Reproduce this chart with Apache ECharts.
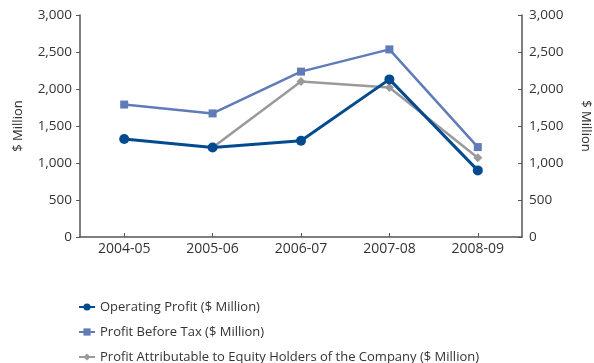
<!DOCTYPE html>
<html>
<head>
<meta charset="utf-8">
<script src="https://cdn.jsdelivr.net/npm/echarts@6/dist/echarts.min.js"></script>
<style>
  html, body { margin: 0; padding: 0; background: #ffffff; }
  #chart { width: 594px; height: 363px; }
</style>
</head>
<body>
<div id="chart"></div>
<script>
// Fiscal years on the category axis
const years = ['2004-05', '2005-06', '2006-07', '2007-08', '2008-09'];

// Profit figures, $ Million
const operatingProfit = [1325, 1210, 1300, 2130, 900];
const profitBeforeTax = [1790, 1670, 2235, 2535, 1215];
const profitAttributable = [null, 1210, 2100, 2020, 1070];

// Series names, in legend order
const seriesNames = [
  'Operating Profit ($ Million)',
  'Profit Before Tax ($ Million)',
  'Profit Attributable to Equity Holders of the Company ($ Million)'
];

// Shared value-axis scale
const axisMin = 0;
const axisMax = 3000;
const axisStep = 500;

const FONT = 'Open Sans';
const axisColor = '#555555';
const textColor = '#333333';

const chart = echarts.init(document.getElementById('chart'), null, { renderer: 'canvas' });

const valueAxisBase = {
  type: 'value',
  min: axisMin,
  max: axisMax,
  interval: axisStep,
  name: '$ Million',
  nameLocation: 'middle',
  nameTextStyle: { color: textColor, fontFamily: FONT, fontSize: 13 },
  axisLine: { show: true, lineStyle: { color: axisColor, width: 1.5 } },
  axisTick: { show: true, length: 4, lineStyle: { color: axisColor, width: 1 } },
  splitLine: { show: false },
  axisLabel: {
    color: textColor, fontFamily: FONT, fontSize: 13.5,
    formatter: v => v.toLocaleString('en-US')
  }
};

// One legend block per series, stacked vertically under the plot
const legendTops = [300, 325, 350];
const legends = seriesNames.map((name, i) => ({
  orient: 'vertical',
  left: 78,
  top: legendTops[i],
  padding: 0,
  itemWidth: 16,
  itemHeight: 9,
  itemGap: 0,
  textStyle: { color: textColor, fontFamily: FONT, fontSize: 13, lineHeight: 14 },
  data: [name]
}));

chart.setOption({
  animation: false,
  backgroundColor: '#ffffff',
  grid: {
    left: 80, right: 72, top: 15, bottom: 126,
    containLabel: false,
    outerBoundsMode: 'none'
  },
  xAxis: {
    type: 'category',
    data: years,
    boundaryGap: true,
    axisLine: { lineStyle: { color: axisColor, width: 1.5 } },
    axisTick: { show: true, alignWithLabel: true, inside: true, length: 4, lineStyle: { color: axisColor } },
    axisLabel: { color: textColor, fontFamily: FONT, fontSize: 14, margin: 5 }
  },
  yAxis: [
    Object.assign({}, valueAxisBase, {
      position: 'left',
      nameGap: 55,
      nameRotate: 90,
      axisTick: Object.assign({}, valueAxisBase.axisTick, { inside: false }),
      axisLabel: Object.assign({}, valueAxisBase.axisLabel, { margin: 8 })
    }),
    Object.assign({}, valueAxisBase, {
      position: 'right',
      nameGap: 57,
      nameRotate: -90,
      axisTick: Object.assign({}, valueAxisBase.axisTick, { inside: true }),
      axisLabel: Object.assign({}, valueAxisBase.axisLabel, { margin: 7 })
    })
  ],
  legend: legends,
  series: [
    {
      name: seriesNames[2],
      type: 'line',
      data: profitAttributable,
      symbol: 'diamond',
      symbolSize: 9,
      color: '#9a9a9a',
      lineStyle: { width: 2.5, color: '#9a9a9a' },
      itemStyle: { color: '#9a9a9a' },
      z: 2
    },
    {
      name: seriesNames[1],
      type: 'line',
      data: profitBeforeTax,
      symbol: 'rect',
      symbolSize: 8,
      color: '#5f7bb8',
      lineStyle: { width: 2.5, color: '#5f7bb8' },
      itemStyle: { color: '#5f7bb8' },
      z: 3
    },
    {
      name: seriesNames[0],
      type: 'line',
      data: operatingProfit,
      symbol: 'circle',
      symbolSize: 10,
      color: '#034b8e',
      lineStyle: { width: 3, color: '#034b8e' },
      itemStyle: { color: '#034b8e' },
      z: 4
    }
  ]
});
</script>
</body>
</html>
